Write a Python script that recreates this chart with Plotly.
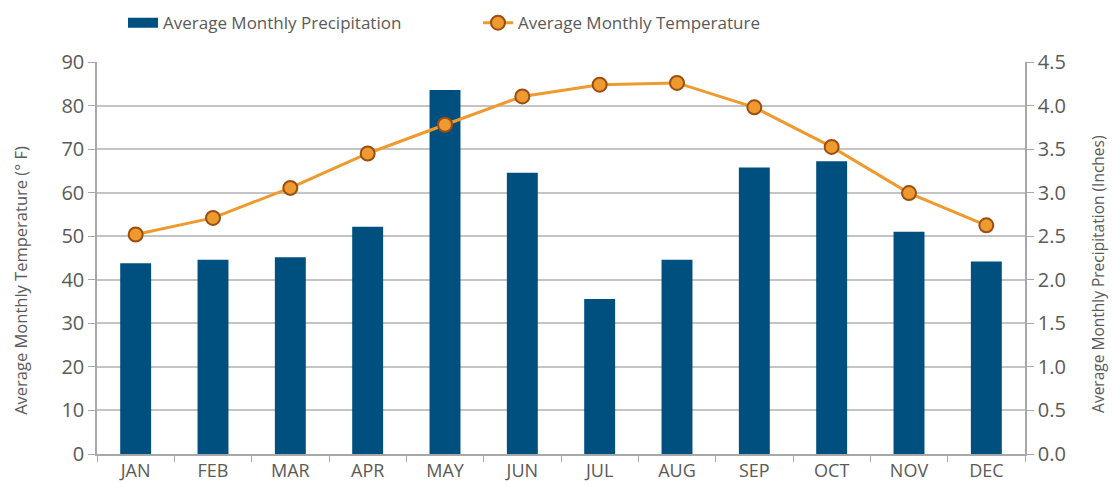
import plotly.graph_objects as go

months = ["JAN", "FEB", "MAR", "APR", "MAY", "JUN", "JUL", "AUG", "SEP", "OCT", "NOV", "DEC"]
precip_in = [2.19, 2.23, 2.26, 2.61, 4.18, 3.23, 1.78, 2.23, 3.29, 3.36, 2.55, 2.21]
temp_f = [50.4, 54.2, 61.1, 69.0, 75.6, 82.1, 84.8, 85.2, 79.6, 70.5, 59.9, 52.5]
temp_ticks = [0, 10, 20, 30, 40, 50, 60, 70, 80, 90]
precip_ticks = [0.0, 0.5, 1.0, 1.5, 2.0, 2.5, 3.0, 3.5, 4.0, 4.5]
left_title = "Average Monthly Temperature (° F)"
right_title = "Average Monthly Precipitation (Inches)"

BAR = "#00507F"
LINE = "#EE9A2E"
MARK_EDGE = "#9A4E12"
TXT = "#5A5A5A"
GRID = "#C4C4C4"
AXIS = "#A8A8A8"
FONT = "Open Sans"

fig = go.Figure()

# Precipitation bars (primary y axis, shown on the right side)
fig.add_trace(go.Bar(
    x=months, y=precip_in, name="Average Monthly Precipitation",
    marker=dict(color=BAR, line=dict(width=0)), width=0.40,
    yaxis="y", showlegend=False, legendgroup="p",
))
# legend proxy for the wide bar swatch
fig.add_trace(go.Scatter(
    x=[None], y=[None], mode="lines", name="Average Monthly Precipitation",
    line=dict(color=BAR, width=10), yaxis="y", legendgroup="p", showlegend=True,
))
# Temperature line (overlay axis, shown on the left side, drawn on top)
fig.add_trace(go.Scatter(
    x=months, y=temp_f, name="Average Monthly Temperature", mode="lines+markers",
    line=dict(color=LINE, width=3),
    marker=dict(size=14, color=LINE, line=dict(color=MARK_EDGE, width=2)),
    yaxis="y2",
))

fig.update_layout(
    width=1112, height=485,
    margin=dict(l=97, r=87, t=62, b=31, autoexpand=False),
    paper_bgcolor="white", plot_bgcolor="white",
    font=dict(family=FONT, color=TXT, size=15),
    showlegend=True,
    legend=dict(
        orientation="h", x=0.028, xanchor="left", y=1.145, yanchor="top",
        font=dict(size=17, color=TXT), itemwidth=30,
        entrywidth=310, entrywidthmode="pixels",
        traceorder="normal", bgcolor="rgba(0,0,0,0)",
    ),
    xaxis=dict(
        type="category", categoryorder="array", categoryarray=months,
        range=[-0.5, len(months) - 0.5],
        showgrid=False, showline=True, linecolor=AXIS, linewidth=1.5,
        ticks="outside", tickson="boundaries", ticklen=6, tickcolor=AXIS,
        tickfont=dict(size=18, color=TXT), automargin=False,
    ),
    yaxis=dict(
        side="right", range=[0, 4.5], tickvals=precip_ticks,
        ticktext=[f"{v:.1f}" for v in precip_ticks],
        showgrid=True, gridcolor=GRID, gridwidth=1.5,
        showline=True, linecolor=AXIS, linewidth=1.5,
        ticks="outside", ticklen=7, tickcolor=AXIS,
        tickfont=dict(size=20, color=TXT), automargin=False,
        zeroline=False,
    ),
    yaxis2=dict(
        side="left", overlaying="y", range=[0, 90], tickvals=temp_ticks,
        showgrid=False, showline=True, linecolor=AXIS, linewidth=1.5,
        ticks="outside", ticklen=7, tickcolor=AXIS,
        tickfont=dict(size=20, color=TXT), automargin=False,
        zeroline=False,
    ),
    annotations=[
        dict(text=left_title, xref="paper", yref="paper", x=-0.082, y=0.444,
             xanchor="center", yanchor="middle", textangle=-90, showarrow=False,
             font=dict(size=16.5, color=TXT)),
        dict(text=right_title, xref="paper", yref="paper", x=1.0787, y=0.457,
             xanchor="center", yanchor="middle", textangle=-90, showarrow=False,
             font=dict(size=15.5, color=TXT)),
    ],
)

fig.write_html("out.html")
